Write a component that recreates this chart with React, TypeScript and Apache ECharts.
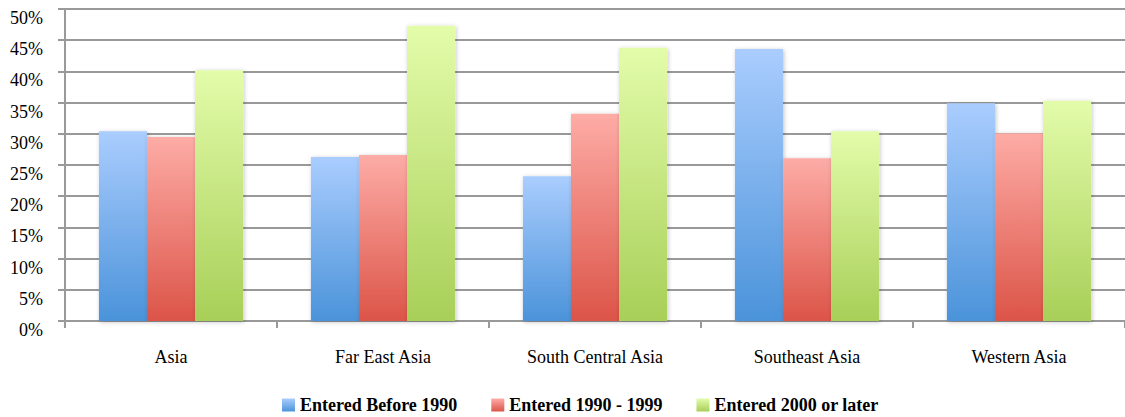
import React, { useEffect, useRef } from "react";
import * as echarts from "echarts";

const categories = ["Asia", "Far East Asia", "South Central Asia", "Southeast Asia", "Western Asia"];
const before1990 = [30.4, 26.3, 23.2, 43.6, 34.9];
const from1990to1999 = [29.5, 26.6, 33.2, 26.1, 30.1];
const after2000 = [40.2, 47.3, 43.8, 30.4, 35.3];
const seriesNames = ["Entered Before 1990", "Entered 1990 - 1999", "Entered 2000 or later"];

const FONT = "'Liberation Serif', 'Times New Roman', serif";

const grad = (top: string, bottom: string) =>
  new echarts.graphic.LinearGradient(0, 0, 0, 1, [
    { offset: 0, color: top },
    { offset: 1, color: bottom },
  ]);

export default function App() {
  const ref = useRef<HTMLDivElement>(null);
  useEffect(() => {
    const chart = echarts.init(ref.current!, null, { renderer: "svg" });
    const colors = [
      ["#aacdfe", "#4b93da"],
      ["#fdaca6", "#dc5448"],
      ["#e3fcaa", "#a8cf58"],
    ];
    const data = [before1990, from1990to1999, after2000];
    chart.setOption({
      animation: false,
      textStyle: { fontFamily: FONT },
      legend: {
        top: 396,
        left: 282,
        padding: 0,
        itemWidth: 13,
        itemHeight: 13,
        itemGap: 34,
        icon: "rect",
        textStyle: { fontFamily: FONT, fontWeight: "bold", fontSize: 18, lineHeight: 18, color: "#000" },
        data: seriesNames,
      },
      grid: { left: 65, right: 0, top: 9, bottom: 96, containLabel: false },
      xAxis: {
        type: "category",
        data: categories,
        axisLine: { lineStyle: { color: "#999", width: 2 } },
        axisTick: { show: true, length: 7, lineStyle: { color: "#999", width: 2 } },
        axisLabel: { color: "#000", fontSize: 18, margin: 27, fontFamily: FONT },
      },
      yAxis: {
        type: "value",
        min: 0,
        max: 50,
        interval: 5,
        axisLine: { show: true, lineStyle: { color: "#999", width: 2 } },
        axisTick: { show: true, length: 7, lineStyle: { color: "#999", width: 2 } },
        splitLine: { lineStyle: { color: "#999", width: 2 } },
        axisLabel: {
          color: "#000",
          fontSize: 18,
          margin: 22,
          formatter: "{value}%",
          fontFamily: FONT,
          verticalAlign: "top",
        },
      },
      series: seriesNames.map((name, i) => ({
        name,
        type: "bar",
        data: data[i],
        barGap: "0%",
        barCategoryGap: "32%",
        itemStyle: {
          color: grad(colors[i][0], colors[i][1]),
          shadowColor: "rgba(0,0,0,0.25)",
          shadowBlur: 4,
          shadowOffsetX: 1,
          shadowOffsetY: 1,
        },
      })),
    });
    return () => chart.dispose();
  }, []);
  return (
    <div
      ref={ref}
      style={{ position: "absolute", left: 0, top: 0, width: 1125, height: 417, background: "#fff" }}
    />
  );
}
